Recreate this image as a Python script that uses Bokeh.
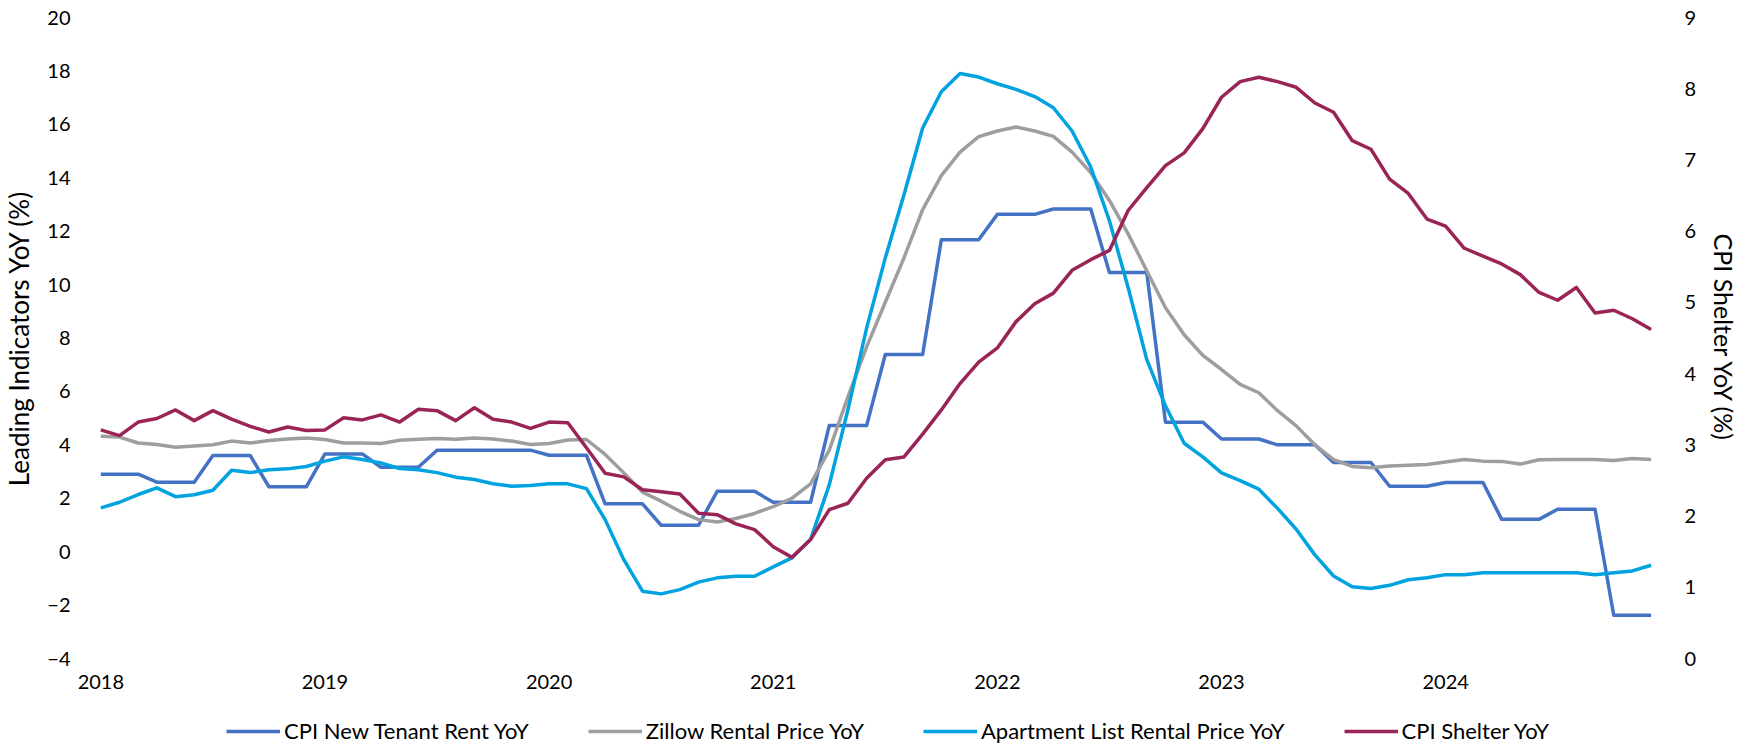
import pandas as pd
from bokeh.plotting import figure
from bokeh.layouts import column
from bokeh.models import Range1d, LinearAxis, FixedTicker, Legend, LegendItem, ColumnDataSource
from bokeh.embed import file_html
from bokeh.resources import INLINE

# ---------------- data ----------------
months = pd.date_range("2018-01-01", periods=84, freq="MS").strftime("%Y-%m").tolist()
year_labels = ["2018", "2019", "2020", "2021", "2022", "2023", "2024"]

new_tenant_rent = [
    2.9, 2.9, 2.9, 2.6, 2.6, 2.6, 3.6, 3.6, 3.6, 2.43, 2.43, 2.43,
    3.66, 3.66, 3.66, 3.16, 3.16, 3.16, 3.8, 3.8, 3.8, 3.8, 3.8, 3.8,
    3.61, 3.61, 3.61, 1.79, 1.79, 1.79, 0.99, 0.99, 0.99, 2.26, 2.26, 2.26,
    1.85, 1.85, 1.85, 4.72, 4.72, 4.72, 7.38, 7.38, 7.38, 11.68, 11.68, 11.68,
    12.63, 12.63, 12.63, 12.83, 12.83, 12.83, 10.45, 10.45, 10.45, 4.85, 4.85, 4.85,
    4.22, 4.22, 4.22, 4.0, 4.0, 4.0, 3.34, 3.34, 3.34, 2.45, 2.45, 2.45,
    2.59, 2.59, 2.59, 1.21, 1.21, 1.21, 1.59, 1.59, 1.59, -2.38, -2.38, -2.38,
]

zillow = [
    4.32, 4.29, 4.07, 4.01, 3.91, 3.96, 4.00, 4.14, 4.07, 4.16, 4.22, 4.26,
    4.20, 4.07, 4.07, 4.05, 4.17, 4.21, 4.24, 4.21, 4.26, 4.22, 4.14, 4.01,
    4.05, 4.18, 4.20, 3.64, 2.95, 2.23, 1.89, 1.51, 1.20, 1.11, 1.24, 1.43,
    1.69, 2.00, 2.54, 3.80, 5.80, 7.67, 9.34, 11.00, 12.81, 14.08, 14.96, 15.54,
    15.75, 15.90, 15.75, 15.55, 14.96, 14.19, 13.15, 11.90, 10.52, 9.13, 8.12, 7.35,
    6.82, 6.26, 5.95, 5.28, 4.71, 4.00, 3.45, 3.19, 3.14, 3.21, 3.24, 3.26,
    3.36, 3.45, 3.39, 3.38, 3.28, 3.44, 3.45, 3.45, 3.45, 3.41, 3.49, 3.45,
]

apartment_list = [
    1.64, 1.85, 2.14, 2.39, 2.06, 2.13, 2.30, 3.05, 2.96, 3.07, 3.10, 3.19,
    3.39, 3.55, 3.45, 3.32, 3.11, 3.07, 2.96, 2.79, 2.70, 2.54, 2.45, 2.48,
    2.54, 2.54, 2.36, 1.20, -0.30, -1.48, -1.58, -1.42, -1.14, -0.98, -0.92, -0.92,
    -0.57, -0.23, 0.46, 2.50, 5.32, 8.37, 11.00, 13.36, 15.86, 17.22, 17.90, 17.77,
    17.52, 17.31, 17.04, 16.62, 15.75, 14.40, 12.39, 9.89, 7.19, 5.46, 4.06, 3.55,
    2.95, 2.66, 2.34, 1.62, 0.84, -0.12, -0.91, -1.31, -1.38, -1.26, -1.05, -0.98,
    -0.86, -0.86, -0.79, -0.79, -0.79, -0.79, -0.79, -0.79, -0.86, -0.79, -0.72, -0.51,
]

cpi_shelter = [
    3.21, 3.13, 3.32, 3.37, 3.49, 3.34, 3.48, 3.36, 3.26, 3.18, 3.25, 3.20,
    3.21, 3.38, 3.35, 3.42, 3.32, 3.50, 3.48, 3.34, 3.52, 3.36, 3.32, 3.23,
    3.32, 3.31, 2.96, 2.60, 2.55, 2.37, 2.34, 2.31, 2.04, 2.02, 1.89, 1.81,
    1.57, 1.42, 1.67, 2.09, 2.18, 2.53, 2.79, 2.83, 3.15, 3.49, 3.86, 4.16,
    4.36, 4.73, 4.98, 5.13, 5.45, 5.60, 5.73, 6.29, 6.61, 6.92, 7.10, 7.44,
    7.88, 8.10, 8.16, 8.10, 8.02, 7.80, 7.67, 7.27, 7.15, 6.73, 6.53, 6.17,
    6.07, 5.76, 5.65, 5.54, 5.39, 5.14, 5.03, 5.21, 4.85, 4.89, 4.77, 4.62,
]

series_names = ["CPI New Tenant Rent YoY", "Zillow Rental Price YoY",
                "Apartment List Rental Price YoY", "CPI Shelter YoY"]
colors = ["#4472C4", "#9E9E9E", "#00A3E0", "#9B2457"]

left_ticks = [-4, -2, 0, 2, 4, 6, 8, 10, 12, 14, 16, 18, 20]
right_ticks = [0, 1, 2, 3, 4, 5, 6, 7, 8, 9]

# ---------------- main figure ----------------
FONT = "Lato"
x_idx = list(range(len(months)))
year_idx = [i for i, m in enumerate(months) if m.endswith("-01")]

src = ColumnDataSource(dict(x=x_idx, ntr=new_tenant_rent, zil=zillow,
                            apt=apartment_list, shel=cpi_shelter))

p = figure(width=1760, height=700, title=None,
           x_range=Range1d(-0.66, 83.45), y_range=Range1d(-4, 20),
           output_backend="svg", toolbar_location=None,
           min_border_left=76, min_border_right=101,
           min_border_top=17, min_border_bottom=42)
p.extra_y_ranges = {"shelter": Range1d(0, 9)}
p.outline_line_color = None
p.xgrid.visible = False
p.ygrid.visible = False
p.background_fill_color = "white"
p.border_fill_color = "white"


def style_axis(ax, standoff=12, title_size="26px"):
    ax.axis_line_color = None
    ax.major_tick_line_color = None
    ax.minor_tick_line_color = None
    ax.major_tick_out = 0
    ax.major_tick_in = 0
    ax.minor_tick_out = 0
    ax.minor_tick_in = 0
    ax.major_label_text_font = FONT
    ax.major_label_text_font_size = "20px"
    ax.major_label_text_color = "#000000"
    ax.major_label_standoff = standoff
    ax.axis_label_text_font = FONT
    ax.axis_label_text_font_size = title_size
    ax.axis_label_text_font_style = "normal"
    ax.axis_label_text_color = "#000000"


xa = p.xaxis[0]
xa.ticker = FixedTicker(ticks=year_idx)
xa.major_label_overrides = {i: y for i, y in zip(year_idx, year_labels)}
style_axis(xa, standoff=16)

ya = p.yaxis[0]
ya.ticker = FixedTicker(ticks=left_ticks)
ya.axis_label = "Leading Indicators YoY (%)"
style_axis(ya, standoff=18)
ya.axis_label_standoff = 9

yr = LinearAxis(y_range_name="shelter", ticker=FixedTicker(ticks=right_ticks),
                axis_label="CPI Shelter YoY (%)")
style_axis(yr, standoff=25, title_size="25px")
yr.axis_label_standoff = 10
p.add_layout(yr, "right")

r1 = p.line("x", "ntr", source=src, line_color=colors[0], line_width=3.5, line_join="round")
r2 = p.line("x", "zil", source=src, line_color=colors[1], line_width=3.5, line_join="round")
r3 = p.line("x", "apt", source=src, line_color=colors[2], line_width=3.5, line_join="round")
r4 = p.line("x", "shel", source=src, line_color=colors[3], line_width=3.5, line_join="round",
            y_range_name="shelter")

# ---------------- legend strip ----------------
lg = figure(width=1741, height=46, title=None, x_range=Range1d(0, 1), y_range=Range1d(0, 1),
            output_backend="svg", toolbar_location=None,
            x_axis_type=None, y_axis_type=None,
            min_border_left=0, min_border_right=0, min_border_top=0, min_border_bottom=0)
lg.outline_line_color = None
lg.xgrid.visible = False
lg.ygrid.visible = False
lg.background_fill_color = "white"
lg.border_fill_color = "white"
lg_renderers = [lg.line(x=[-10, -9], y=[-10, -10], line_color=c, line_width=3.5) for c in colors]

legend = Legend(
    items=[LegendItem(label=n, renderers=[r]) for n, r in zip(series_names, lg_renderers)],
    orientation="horizontal", location=(138, 2),
    border_line_color=None, background_fill_alpha=0,
    padding=0, margin=0, spacing=59, glyph_width=54, glyph_height=20,
    label_standoff=4, label_text_font=FONT, label_text_font_size="22px",
    label_text_color="#000000",
)
lg.add_layout(legend)

layout = column(p, lg, spacing=0)
open("out.html", "w").write(file_html(layout, INLINE))
